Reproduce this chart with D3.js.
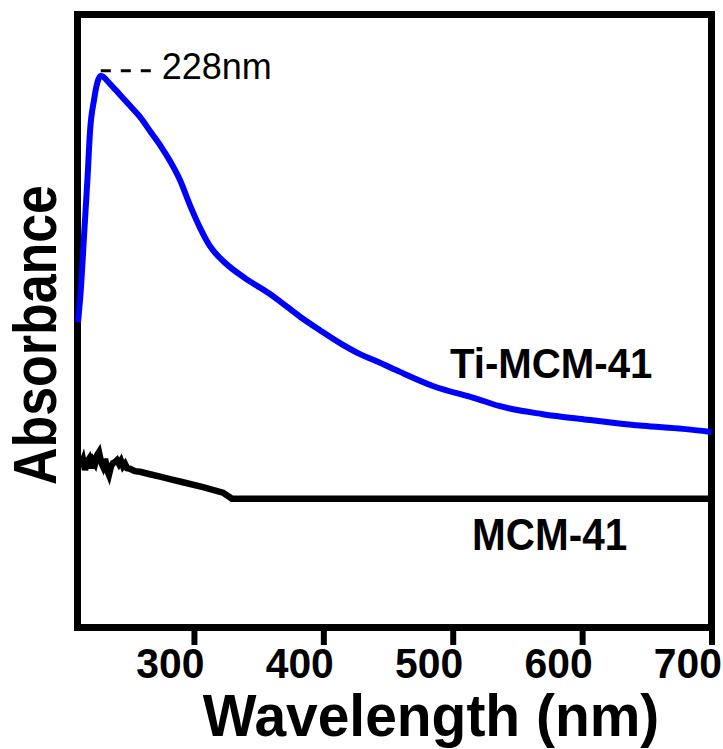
<!DOCTYPE html>
<html>
<head>
<meta charset="utf-8">
<script src="https://cdn.jsdelivr.net/npm/d3@7"></script>
<style>
  html, body { margin: 0; padding: 0; background: #fff; }
  svg { display: block; }
  text { font-family: "Liberation Sans", Arial, Helvetica, sans-serif; fill: #000; }
</style>
</head>
<body>
<svg id="chart" width="723" height="749"></svg>
<script>
// UV-Vis diffuse reflectance spectra (arbitrary absorbance units)
const wavelengthTicks = [300, 400, 500, 600, 700];

const tiWavelength = [210.4, 212.7, 215.0, 217.7, 219.7, 222.8, 225.1, 228.0, 235.1, 242.8,
  250.6, 258.3, 266.0, 273.8, 281.5, 289.2, 296.9, 304.7, 312.4, 324.0,
  339.4, 358.8, 366.5, 382.0, 397.4, 412.9, 428.3, 443.8, 459.2,
  484.7, 518.7, 536.5, 569.7, 603.7, 623.8, 647.0, 677.9, 700.0];
const tiAbsorbance = [0.498, 0.555, 0.637, 0.732, 0.810, 0.861, 0.887, 0.900, 0.887, 0.869,
  0.851, 0.833, 0.810, 0.787, 0.761, 0.730, 0.689, 0.652, 0.622, 0.595,
  0.570, 0.544, 0.532, 0.507, 0.485, 0.464, 0.446, 0.432, 0.417,
  0.394, 0.373, 0.361, 0.348, 0.339, 0.334, 0.329, 0.324, 0.319];

const mcmWavelength = [212.7, 214.3, 215.8, 217.3, 218.9, 220.4, 222.0, 223.5, 225.1, 226.6,
  228.2, 229.7, 231.3, 232.8, 234.3, 235.9, 237.4, 239.0, 240.5, 242.1,
  243.6, 245.2, 246.7, 248.3, 250.6, 254.4, 258.3, 266.0, 273.8, 281.5,
  291.5, 307.0, 322.4, 329.4, 700.0];
const mcmAbsorbance = [0.264, 0.273, 0.257, 0.270, 0.275, 0.260, 0.272, 0.267, 0.281, 0.286,
  0.270, 0.263, 0.275, 0.257, 0.249, 0.263, 0.268, 0.270, 0.273, 0.267,
  0.272, 0.263, 0.267, 0.260, 0.259, 0.255, 0.254, 0.250, 0.246, 0.242,
  0.237, 0.229, 0.220, 0.210, 0.210];

const peakWavelength = 228;
const peakLabel = "228nm";
const seriesNames = ["Ti-MCM-41", "MCM-41"];
const xTitle = "Wavelength (nm)";
const yTitle = "Absorbance";

const svg = d3.select("#chart");

const x = d3.scaleLinear().domain([210, 700]).range([77.5, 711.5]);
const y = d3.scaleLinear().domain([0, 1]).range([627.5, 14.5]);

// plot frame
svg.append("rect")
  .attr("x", x(210)).attr("y", y(1))
  .attr("width", x(700) - x(210)).attr("height", y(0) - y(1))
  .attr("fill", "none").attr("stroke", "#000").attr("stroke-width", 7);

// bottom axis: ticks hang below the frame
const axis = d3.axisBottom(x).tickValues(wavelengthTicks).tickSize(14).tickSizeOuter(0);
const gx = svg.append("g").attr("transform", `translate(0,${y(0) + 3.5})`).call(axis);
gx.select(".domain").remove();
gx.selectAll(".tick line").attr("stroke", "#000").attr("stroke-width", 6);
gx.selectAll(".tick text")
  .attr("y", null).attr("dy", null)
  .attr("text-anchor", "end")
  .attr("transform", "translate(10,47) scale(0.95,1)")
  .style("font-size", "43px").style("font-weight", "bold")
  .style("font-family", '"Liberation Sans", Arial, sans-serif')
  .attr("fill", "#000");

// spectra
const line = d3.line().x(d => x(d[0])).y(d => y(d[1]));

svg.append("path")
  .datum(mcmWavelength.map((w, i) => [w, mcmAbsorbance[i]]))
  .attr("d", line.curve(d3.curveLinear))
  .attr("fill", "none").attr("stroke", "#000").attr("stroke-width", 6.5)
  .attr("stroke-linejoin", "miter");

svg.append("path")
  .datum(tiWavelength.map((w, i) => [w, tiAbsorbance[i]]))
  .attr("d", line.curve(d3.curveMonotoneX))
  .attr("fill", "none").attr("stroke", "#0000ff").attr("stroke-width", 6);

// peak marker
const peakIdx = tiWavelength.indexOf(peakWavelength);
const peakY = y(tiAbsorbance[peakIdx]) - 5;
svg.append("line")
  .attr("x1", x(peakWavelength)).attr("x2", x(peakWavelength) + 51)
  .attr("y1", peakY).attr("y2", peakY)
  .attr("stroke", "#000").attr("stroke-width", 3)
  .attr("stroke-dasharray", "10,10");
svg.append("text")
  .attr("x", x(peakWavelength) + 61).attr("y", peakY + 8)
  .style("font-size", "36px")
  .text(peakLabel);

// series labels
svg.append("text")
  .attr("transform", "translate(450,378) scale(0.935,1)")
  .style("font-size", "43px").style("font-weight", "bold")
  .text(seriesNames[0]);
svg.append("text")
  .attr("transform", "translate(472,550) scale(0.92,1)")
  .style("font-size", "44px").style("font-weight", "bold")
  .text(seriesNames[1]);

// axis titles
svg.append("text")
  .attr("transform", "translate(431,736) scale(0.965,1)")
  .attr("text-anchor", "middle")
  .style("font-size", "59px").style("font-weight", "bold")
  .text(xTitle);
svg.append("text")
  .attr("transform", "translate(56,335) rotate(-90) scale(0.851,1)")
  .attr("text-anchor", "middle")
  .style("font-size", "61px").style("font-weight", "bold")
  .text(yTitle);
</script>
</body>
</html>
